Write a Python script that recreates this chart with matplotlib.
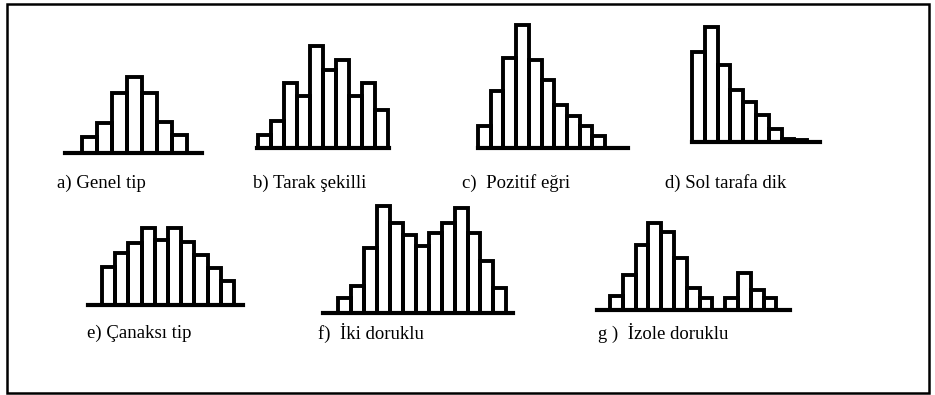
import numpy as np
import matplotlib
matplotlib.use('Agg')
import matplotlib.pyplot as plt
from matplotlib.patches import Rectangle

# bar heights (frequency) for each histogram shape
genel_tip = [16, 30, 60, 76, 60, 31, 18]
tarak_sekilli = [13, 27, 65, 52, 102, 78, 88, 52, 65, 38]
pozitif_egri = [22, 57, 90, 123, 88, 68, 43, 32, 22, 12]
sol_tarafa_dik = [90, 115, 77, 52, 40, 27, 13, 3, 2]
canaksi_tip = [38, 52, 62, 77, 65, 77, 63, 50, 37, 24]
iki_doruklu = [15, 27, 65, 107, 90, 78, 67, 80, 90, 105, 80, 52, 25]
izole_doruklu = [14, 35, 65, 87, 78, 52, 22, 12, 0, 12, 37, 20, 12]

labels = ['a) Genel tip', 'b) Tarak şekilli', 'c)  Pozitif eğri', 'd) Sol tarafa dik',
          'e) Çanaksı tip', 'f)  İki doruklu', 'g )  İzole doruklu']

W, H = 935, 395
fig = plt.figure(figsize=(W / 100, H / 100), dpi=100)
plt.rcParams['font.family'] = ['Liberation Serif', 'DejaVu Serif']

# layout in pixels: first bar left, baseline y, bar width, axis line start/end, label x, label y
layout = [
    (82, 153, 15.0, 65, 202, 57, 183),
    (258, 148, 13.0, 257, 389, 253, 183),
    (478, 148, 12.7, 478, 628, 462, 183),
    (692, 142, 12.8, 692, 820, 665, 183),
    (102, 305, 13.2, 88, 243, 87, 333),
    (338, 313, 12.95, 323, 513, 318, 333),
    (610, 310, 12.8, 597, 790, 598, 333),
]
data = [genel_tip, tarak_sekilli, pozitif_egri, sol_tarafa_dik,
        canaksi_tip, iki_doruklu, izole_doruklu]

for heights, lab, (x0, base, bw, al, ar, lx, ly) in zip(data, labels, layout):
    top = max(heights) + 6
    ax = fig.add_axes([al / W, (H - base) / H, (ar - al) / W, top / H])
    ax.set_xlim((al - x0) / bw, (ar - x0) / bw)
    ax.set_ylim(0, top)
    ax.bar(np.arange(len(heights)), heights, width=1, align='edge',
           fill=False, edgecolor='black', linewidth=2.8, clip_on=False)
    ax.axhline(0, color='black', linewidth=3.0, clip_on=False)
    ax.axis('off')
    fig.text(lx / W, 1 - ly / H, lab, fontsize=13.5, va='center', ha='left', color='black')

# outer frame
fig.add_artist(Rectangle((7 / W, 2 / H), 922 / W, 389 / H, transform=fig.transFigure,
                         fill=False, edgecolor='black', linewidth=1.8))

fig.savefig('out.png', dpi=100, facecolor='white')
